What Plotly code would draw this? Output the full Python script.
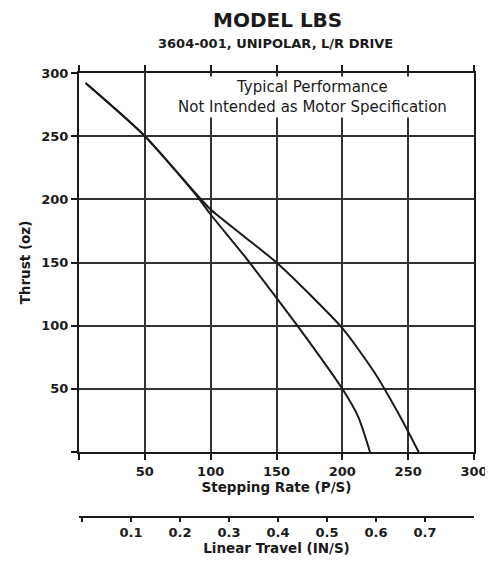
import plotly.graph_objects as go

# stepping rate (P/S) vs thrust (oz)
rate_a = [5, 50, 90, 100, 125, 150, 175, 200, 225, 245, 258]
thrust_a = [292, 250, 203, 192, 171, 150, 125, 98, 62, 26, 0]

rate_b = [5, 50, 90, 100, 125, 150, 175, 200, 212, 221]
thrust_b = [292, 250, 202, 188, 156, 122, 87, 50, 28, 0]

x_ticks = [0, 50, 100, 150, 200, 250, 300]
y_ticks = [0, 50, 100, 150, 200, 250, 300]
travel_ticks = [0.1, 0.2, 0.3, 0.4, 0.5, 0.6, 0.7]

font = "DejaVu Sans, Liberation Sans, sans-serif"
ink = "#1a1a1a"

# page body adds an 8px margin, so the figure is 8px smaller than the window
W, H = 485, 560
L, R, T, B = 71, 19, 65, 51

fig = go.Figure()

fig.add_trace(go.Scatter(x=rate_a, y=thrust_a, mode='lines', line=dict(color=ink, width=2, shape='spline', smoothing=0.7),
                         showlegend=False, hoverinfo='skip'))
fig.add_trace(go.Scatter(x=rate_b, y=thrust_b, mode='lines', line=dict(color=ink, width=2, shape='spline', smoothing=0.7),
                         showlegend=False, hoverinfo='skip'))
# dummy trace so the linear travel axis gets drawn
fig.add_trace(go.Scatter(x=[None], y=[None], xaxis='x2', yaxis='y', showlegend=False))

tick_font = dict(family=font, size=13, color=ink, weight='bold')
title_font = dict(family=font, size=13.5, color=ink, weight='bold')

fig.update_layout(
    width=W, height=H,
    margin=dict(l=L, r=R, t=T, b=B),
    paper_bgcolor='white', plot_bgcolor='white',
    xaxis=dict(range=[0, 300], tickvals=x_ticks, ticktext=[''] + [str(v) for v in x_ticks[1:]],
               showgrid=True, gridcolor='#333', gridwidth=1.5, automargin=False,
               showline=True, linecolor=ink, linewidth=2, mirror='ticks',
               ticks='outside', ticklen=6, tickcolor=ink, tickwidth=1.5,
               tickfont=tick_font, zeroline=False,
               title=dict(text='Stepping Rate (P/S)', font=title_font, standoff=2)),
    yaxis=dict(range=[0, 300], domain=[0.1464, 1], tickvals=y_ticks,
               ticktext=[''] + [str(v) for v in y_ticks[1:]],
               showgrid=True, gridcolor='#333', gridwidth=1.5, automargin=False,
               showline=True, linecolor=ink, linewidth=2, mirror=True,
               ticks='outside', ticklen=6, tickcolor=ink, tickwidth=1.5,
               tickfont=tick_font, zeroline=False,
               title=dict(text='Thrust (oz)', font=title_font, standoff=8)),
    xaxis2=dict(range=[-0.006, 0.8], overlaying='x', anchor='free', position=0, side='bottom',
                tickvals=[0] + travel_ticks, ticktext=[''] + [str(v) for v in travel_ticks],
                showgrid=False, zeroline=False, automargin=False,
                showline=True, linecolor=ink, linewidth=1.5,
                ticks='outside', ticklen=4, tickcolor=ink, tickwidth=1.5,
                tickfont=tick_font,
                title=dict(text='Linear Travel (IN/S)', font=title_font, standoff=2)),
    annotations=[
        dict(text='<b>MODEL LBS</b>', x=277, y=20, xref='paper', yref='paper', showarrow=False,
             font=dict(family=font, size=20, color=ink)),
        dict(text='<b>3604-001, UNIPOLAR, L/R DRIVE</b>', x=275, y=43, xref='paper', yref='paper',
             showarrow=False, font=dict(family=font, size=13, color=ink)),
        dict(text='Typical Performance<br>Not Intended as Motor Specification',
             x=177, y=281, xref='x', yref='y', xanchor='center', yanchor='middle',
             showarrow=False, bgcolor='white',
             font=dict(family=font, size=15, color=ink)),
    ],
)

# title lines placed in window pixels, converted to paper coords
for ann in fig.layout.annotations[:2]:
    px, py = ann.x - 8, ann.y - 8
    ann.x = (px - L) / (W - L - R)
    ann.y = 1 + (T - py) / (H - T - B)
    ann.xanchor = 'center'
    ann.yanchor = 'middle'

fig.write_html("out.html")
